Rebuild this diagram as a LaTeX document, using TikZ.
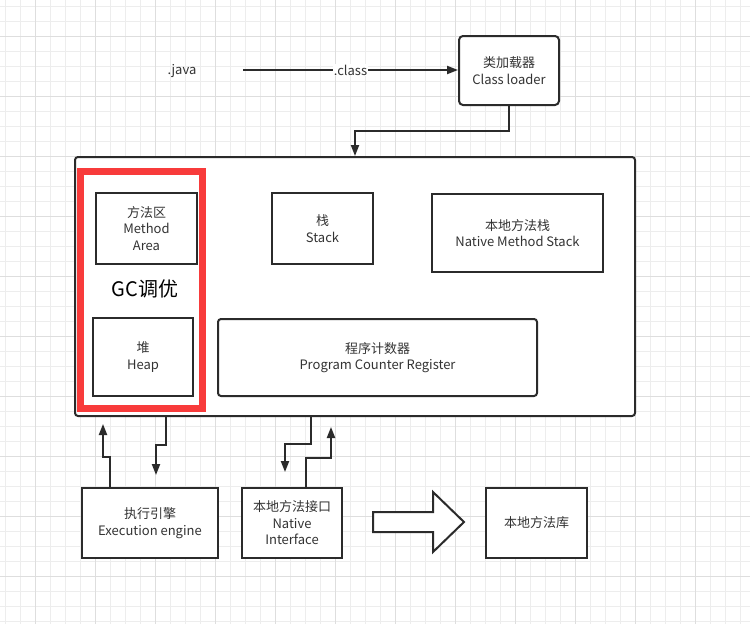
\documentclass[tikz,border=0pt]{standalone}
\usepackage{fontspec}
\setmainfont{Noto Sans CJK SC}
\usetikzlibrary{arrows.meta,calc}
\definecolor{txt}{HTML}{333333}
\definecolor{ln}{HTML}{2B2B2B}
\definecolor{gminor}{HTML}{EDEDED}
\definecolor{gmajor}{HTML}{DEDEDE}
\definecolor{gcred}{HTML}{F83B3B}
\begin{document}
\begin{tikzpicture}[x=1pt,y=-1pt,
  box/.style={draw=ln,line width=2pt,fill=white,inner sep=0pt,align=center,
    text=txt,font=\fontsize{13}{16.5}\selectfont},
  plain/.style={text=txt,font=\fontsize{13}{16.5}\selectfont,inner sep=1pt},
  arr/.style={draw=ln,line width=2pt,-{Triangle[length=11pt,width=8pt]}},
  ln2/.style={draw=ln,line width=2pt}]
\useasboundingbox (0,0) rectangle (750,624);
\fill[white] (0,0) rectangle (750,624);
% grid
\foreach \x in {5,20,...,750} \draw[gminor,line width=1pt] (\x,0) -- (\x,624);
\foreach \y in {6,21,...,624} \draw[gminor,line width=1pt] (0,\y) -- (750,\y);
\foreach \x in {35,95,...,750} \draw[gmajor,line width=1pt] (\x,0) -- (\x,624);
\foreach \y in {36,96,...,624} \draw[gmajor,line width=1pt] (0,\y) -- (750,\y);

% top row
\node[plain] (java) at (182,71.5) {.java};
\coordinate (s0) at (243,70);
\node[box,rounded corners=4pt,minimum width=100pt,minimum height=69pt] (cl) at (509,70.5) {类加载器\\Class loader};
\draw[arr] (s0) -- (s0 -| cl.west) node[midway,fill=white,plain,inner sep=1pt] {.class};

% main container
\node[box,rounded corners=3pt,minimum width=560pt,minimum height=259pt] (main) at (355,286.5) {};
\coordinate (c1) at (355,131);
\draw[arr] (cl.south) |- (c1) -- (c1 |- main.north);

% GC area
\node[draw=gcred,line width=7pt,minimum width=121.5pt,minimum height=237pt,inner sep=0pt] (gc) at (141.25,290) {};
\node[box,minimum width=101pt,minimum height=71pt] (ma) at (146.5,228.5) {方法区\\Method\\Area};
\node[font=\fontsize{20}{24}\selectfont,text=black] (gct) at (145,289) {GC调优};
\node[box,minimum width=100pt,minimum height=78pt] (heap) at (143,357) {堆\\Heap};

\node[box,minimum width=101pt,minimum height=71pt] (stack) at (322.5,228.5) {栈\\Stack};
\node[box,minimum width=171pt,minimum height=78pt] (nms) at (517.5,233) {本地方法栈\\Native Method Stack};
\node[box,rounded corners=3pt,minimum width=319pt,minimum height=77pt] (pcr) at (377.5,357.5) {程序计数器\\Program Counter Register};

% bottom row
\node[box,minimum width=136pt,minimum height=70pt] (ee) at (150,523) {执行引擎\\Execution engine};
\node[box,minimum width=100pt,minimum height=70pt] (ni) at (292,523) {本地方法接口\\Native\\Interface};
\node[box,minimum width=101pt,minimum height=70pt] (lib) at (536.5,523) {本地方法库};

\coordinate (e1) at (103,424);
\coordinate (e2) at (156,475);
\coordinate (n1) at (285,472);
\coordinate (n2) at (331,427);
\draw[arr] ([xshift=29pt]ee.north west) -- ++(0,-30) -| (e1);
\draw[arr] ([xshift=92pt]main.south west) -- ++(0,28) -| (e2);
\draw[arr] ([xshift=237pt]main.south west) -- ++(0,27) -| (n1);
\draw[arr] ([xshift=65pt]ni.north west) -- ++(0,-29) -| (n2);

% block arrow
\draw[ln2,fill=white,line join=miter] (373,512) -- (433,512) -- (433,492) -- (464,522) -- (433,552) -- (433,532) -- (373,532) -- cycle;
\end{tikzpicture}
\end{document}
